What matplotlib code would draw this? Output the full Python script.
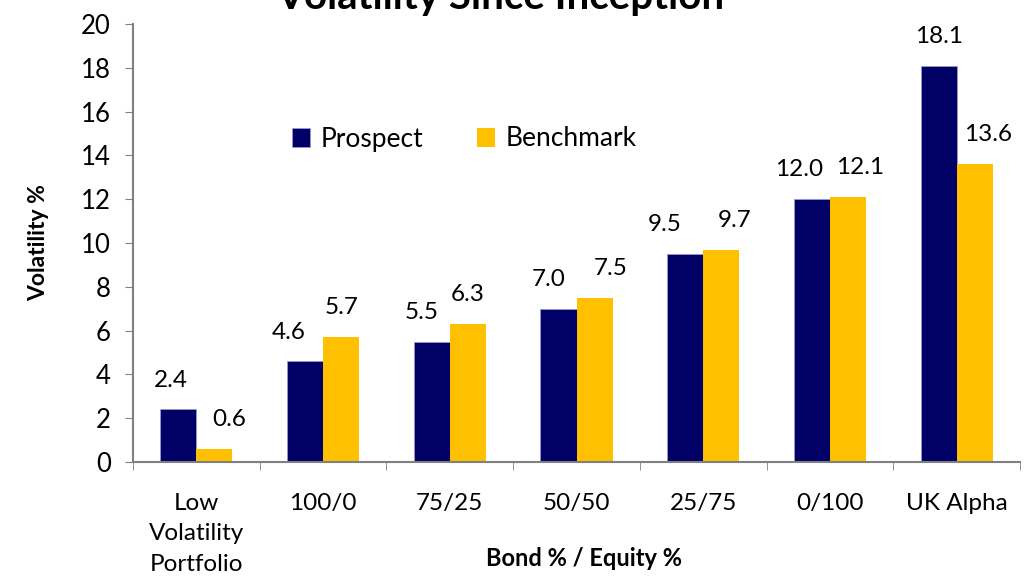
import matplotlib
matplotlib.use("Agg")
import matplotlib.pyplot as plt
import numpy as np

categories = ["Low\nVolatility\nPortfolio", "100/0", "75/25", "50/50", "25/75", "0/100", "UK Alpha"]
prospect = [2.4, 4.6, 5.5, 7.0, 9.5, 12.0, 18.1]
benchmark = [0.6, 5.7, 6.3, 7.5, 9.7, 12.1, 13.6]
yticks = [0, 2, 4, 6, 8, 10, 12, 14, 16, 18, 20]

# horizontal nudges of the value labels, in pixels (layout only)
prospect_dx = [-7, -16, -10, -10, -20, -13, 0]
benchmark_dx = [15, 0, 0, 16, 13, 12, 13]

plt.rcParams['font.family'] = ['Lato', 'DejaVu Sans']

fig = plt.figure(figsize=(10.25, 5.76), dpi=100)
ax = fig.add_axes([133/1025, 1-462/576, (1020-133)/1025, (462-24)/576])

x = np.arange(len(categories))
w = 0.285
navy = "#000066"
gold = "#FFC000"
b1 = ax.bar(x - w/2, prospect, w, color=navy, label="Prospect",
            edgecolor="#9999cc", linewidth=0.6)
b2 = ax.bar(x + w/2, benchmark, w, color=gold, label="Benchmark")

for bars, vals, dxs in ((b1, prospect, prospect_dx), (b2, benchmark, benchmark_dx)):
    for r, v, dx in zip(bars, vals, dxs):
        ax.annotate(f"{v:.1f}", (r.get_x() + r.get_width()/2, v),
                    xytext=(dx * 0.72, 13.5), textcoords="offset points",
                    ha="center", va="bottom", fontsize=17.5)

ax.set_xlim(-0.5, len(categories) - 0.5)
ax.set_ylim(0, 20)
ax.set_yticks(yticks)
ax.set_yticklabels([str(t) for t in yticks], fontsize=18.5)
ax.set_xticks(x)
ax.set_xticklabels(categories, fontsize=17.5, linespacing=1.58, va="top")
ax.tick_params(axis="x", length=0, pad=22)
ax.set_xticks(np.arange(-0.5, len(categories)), minor=True)
ax.tick_params(axis="x", which="minor", length=6, color="#808080", direction="out")
ax.tick_params(axis="y", length=6, color="#808080", direction="out", pad=10)

for s in ("top", "right"):
    ax.spines[s].set_visible(False)
for s in ("left", "bottom"):
    ax.spines[s].set_color("#808080")
    ax.spines[s].set_linewidth(1.5)

ax.set_ylabel("Volatility %", fontsize=16.5, fontweight="bold")
ax.yaxis.set_label_coords(-0.095, 0.5)
ax.set_xlabel("Bond % / Equity %", fontsize=17, fontweight="bold", va="center")
ax.xaxis.set_label_coords(0.508, -(558 - 462) / 438)

fig.text(500/1025, 1 + 2/576, "Volatility Since Inception", ha="center", va="center",
         fontsize=29, fontweight="bold")

ax.legend(loc="center left", bbox_to_anchor=((292 - 133) / 887, (462 - 139) / 438), ncol=2,
          frameon=False, fontsize=19, handlelength=0.7, handleheight=0.7,
          handletextpad=0.4, columnspacing=2.0, borderaxespad=0, borderpad=0)

fig.savefig("out.png", dpi=100)
